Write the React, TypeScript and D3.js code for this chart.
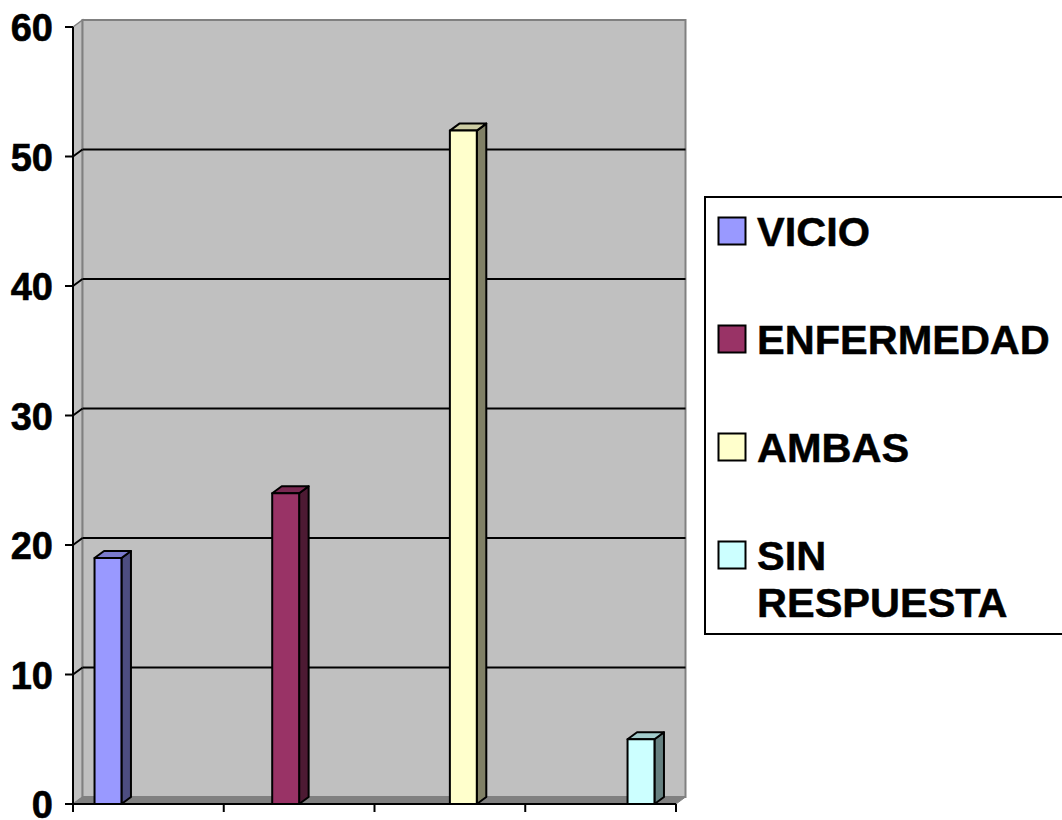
import React from "react";
import * as d3 from "d3";

const categories = ["VICIO", "ENFERMEDAD", "AMBAS", "SIN RESPUESTA"];
const values = [19, 24, 52, 5];
const colors = ["#9999FF", "#993366", "#FFFFCC", "#CCFFFF"];
const yTicks = [0, 10, 20, 30, 40, 50, 60];
const legendLines = [["VICIO"], ["ENFERMEDAD"], ["AMBAS"], ["SIN", "RESPUESTA"]];

const W = 1062;
const H = 820;
const left = 73;
const right = 676;
const bottom = 804;
const top = 27;
const DX = 9.5;
const DY = -7;

function scaleColor(c: string, k: number) {
  const rgb = d3.rgb(c);
  return d3.rgb(rgb.r * k, rgb.g * k, rgb.b * k).formatHex();
}

export default function App() {
  const y = d3.scaleLinear().domain([0, 60]).range([bottom, top]);
  const x0 = d3.scaleBand<string>().domain(categories).range([left, right]).paddingInner(0).paddingOuter(0);
  const x1 = d3
    .scaleBand<string>()
    .domain(categories)
    .range([0, x0.bandwidth()])
    .paddingInner(0)
    .paddingOuter(0.8);

  const font = "'Liberation Sans', Arial, sans-serif";
  const catBoundaries = [...categories.map((c) => x0(c) as number), right];

  return (
    <svg
      width={W}
      height={H}
      style={{ position: "absolute", left: 0, top: 0, background: "#fff" }}
      fontFamily={font}
    >
      {/* left wall */}
      <polygon
        points={`${left},${y(60)} ${left + DX},${y(60) + DY} ${left + DX},${bottom + DY} ${left},${bottom}`}
        fill="#c0c0c0"
        stroke="#808080"
        strokeWidth={1.5}
      />
      {/* back wall */}
      <rect
        x={left + DX}
        y={y(60) + DY}
        width={right - left}
        height={bottom - y(60)}
        fill="#c0c0c0"
        stroke="#808080"
        strokeWidth={2}
      />
      {/* floor */}
      <polygon
        points={`${left},${bottom} ${left + DX},${bottom + DY} ${right + DX},${bottom + DY} ${right},${bottom}`}
        fill="#808080"
        stroke="#808080"
        strokeWidth={1}
      />
      {/* gridlines */}
      {yTicks
        .filter((t) => t > 0 && t < 60)
        .map((t) => (
          <g key={"g" + t}>
            <line x1={left + DX} x2={right + DX} y1={y(t) + DY} y2={y(t) + DY} stroke="#000" strokeWidth={2} />
            <line x1={left} x2={left + DX} y1={y(t)} y2={y(t) + DY} stroke="#000" strokeWidth={2} />
          </g>
        ))}
      {/* bars */}
      {categories.map((c, i) => {
        const v = values[i];
        const bx = (x0(c) as number) + (x1(c) as number);
        const bw = x1.bandwidth();
        const yt = y(v);
        const front = colors[i];
        return (
          <g key={c} stroke="#000" strokeWidth={2} strokeLinejoin="round">
            <polygon
              points={`${bx + bw},${bottom} ${bx + bw + DX},${bottom + DY} ${bx + bw + DX},${yt + DY} ${bx + bw},${yt}`}
              fill={scaleColor(front, 0.5)}
            />
            <polygon
              points={`${bx},${yt} ${bx + DX},${yt + DY} ${bx + bw + DX},${yt + DY} ${bx + bw},${yt}`}
              fill={scaleColor(front, 0.8)}
            />
            <rect x={bx} y={yt} width={bw} height={bottom - yt} fill={front} />
          </g>
        );
      })}
      {/* y axis */}
      <line x1={left} x2={left} y1={y(60)} y2={bottom} stroke="#000" strokeWidth={2} />
      {yTicks.map((t) => (
        <g key={"t" + t}>
          <line x1={left - 8} x2={left} y1={y(t)} y2={y(t)} stroke="#000" strokeWidth={2} />
          <text
            x={53}
            y={y(t)}
            dy="0.37em"
            textAnchor="end"
            fontSize={38}
            fontWeight="bold"
            fill="#000"
            stroke="#000"
            strokeWidth={0.6}
          >
            {t}
          </text>
        </g>
      ))}
      {/* x axis */}
      <line x1={left} x2={right} y1={bottom} y2={bottom} stroke="#000" strokeWidth={2} />
      {catBoundaries.map((bx, i) => (
        <line key={"xt" + i} x1={bx} x2={bx} y1={bottom} y2={bottom + 8} stroke="#000" strokeWidth={2} />
      ))}
      {/* legend */}
      <rect x={705} y={197} width={400} height={437} fill="#fff" stroke="#000" strokeWidth={2} />
      {legendLines.map((lines, i) => {
        const base = 246 + i * 108;
        return (
          <g key={"l" + i}>
            <rect x={718.5} y={base - 28.5} width={27} height={27} fill={colors[i]} stroke="#000" strokeWidth={2} />
            {lines.map((ln, j) => (
              <text
                key={j}
                x={757}
                y={base + j * 47}
                fontSize={41.5}
                fontWeight="bold"
                fill="#000"
                stroke="#000"
                strokeWidth={0.5}
              >
                {ln}
              </text>
            ))}
          </g>
        );
      })}
    </svg>
  );
}
